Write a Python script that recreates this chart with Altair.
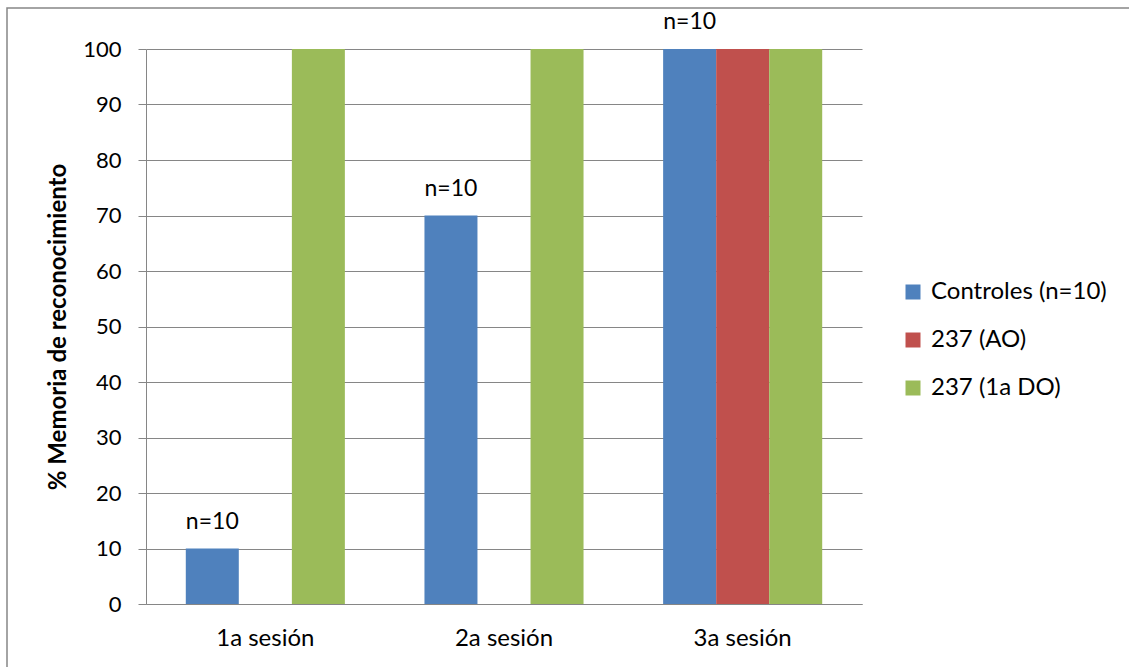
import altair as alt
import pandas as pd

# Sessions, series and recognition-memory percentages
sessions = ["1a sesión", "2a sesión", "3a sesión"]
series = ["Controles (n=10)", "237 (AO)", "237 (1a DO)"]
controles = [10, 70, 100]
ao = [None, None, 100]
do_1a = [100, 100, 100]
n_labels = ["n=10", "n=10", "n=10"]
colors = ["#4F81BD", "#C0504D", "#9BBB59"]

rows = []
for i, s in enumerate(sessions):
    for name, vals in zip(series, [controles, ao, do_1a]):
        if vals[i] is None:
            continue
        rows.append({
            "sesion": s,
            "serie": name,
            "valor": vals[i],
            "n": n_labels[i] if name == series[0] else "",
        })
df = pd.DataFrame(rows)

FONT = "Lato"
GRAY = "#868686"

x_enc = alt.X(
    "sesion:N",
    sort=sessions,
    title=None,
    scale=alt.Scale(paddingInner=0, paddingOuter=0),
    axis=alt.Axis(labelAngle=0, ticks=False, labelPadding=22, domainColor=GRAY,
                  labelFontSize=24, labelFont=FONT, labelColor="#000000"),
)
xoff_enc = alt.XOffset("serie:N", sort=series,
                       scale=alt.Scale(paddingInner=0, paddingOuter=0.75))
y_enc = alt.Y(
    "valor:Q",
    title="% Memoria de reconocimiento",
    scale=alt.Scale(domain=[0, 100], nice=False),
    axis=alt.Axis(values=list(range(0, 101, 10)), tickSize=8, tickColor=GRAY,
                  domainColor=GRAY, gridColor=GRAY, grid=True,
                  labelPadding=17, labelFontSize=22, labelFont=FONT,
                  labelColor="#000000", titleFont=FONT, titleFontSize=24,
                  titleFontWeight="bold", titleColor="#000000", titlePadding=12),
)

bars = alt.Chart(df).mark_bar(size=53).encode(
    x=x_enc,
    xOffset=xoff_enc,
    y=y_enc,
    color=alt.Color(
        "serie:N",
        sort=series,
        scale=alt.Scale(domain=series, range=colors),
        legend=alt.Legend(
            title=None, orient="none", legendX=755, legendY=231,
            symbolType="square", symbolSize=225, symbolStrokeWidth=0,
            labelFont=FONT, labelFontSize=24, labelColor="#000000",
            labelLimit=400, rowPadding=24, labelOffset=6,
        ),
    ),
)

labels = alt.Chart(df).mark_text(
    baseline="bottom", dy=-15, font=FONT, fontSize=23, color="#000000"
).encode(
    x=alt.X("sesion:N", sort=sessions),
    xOffset=alt.XOffset("serie:N", sort=series),
    y="valor:Q",
    text="n:N",
)

# Thin outer frame around the whole figure
frame = alt.Chart(pd.DataFrame({"k": [0]})).mark_rect(
    fill=None, stroke=GRAY, strokeWidth=1.5
).encode(
    x=alt.value(-139), x2=alt.value(990),
    y=alt.value(-41), y2=alt.value(640),
)

chart = alt.layer(frame, bars, labels).properties(
    width=716,
    height=555,
    autosize=alt.AutoSizeParams(type="none"),
    padding={"left": 146, "top": 49, "right": 267, "bottom": 63},
    background="#FFFFFF",
).configure_view(stroke=None).configure_axis(gridWidth=1, domainWidth=1)

chart.save("out.html", embed_options={"renderer": "svg", "actions": False})
